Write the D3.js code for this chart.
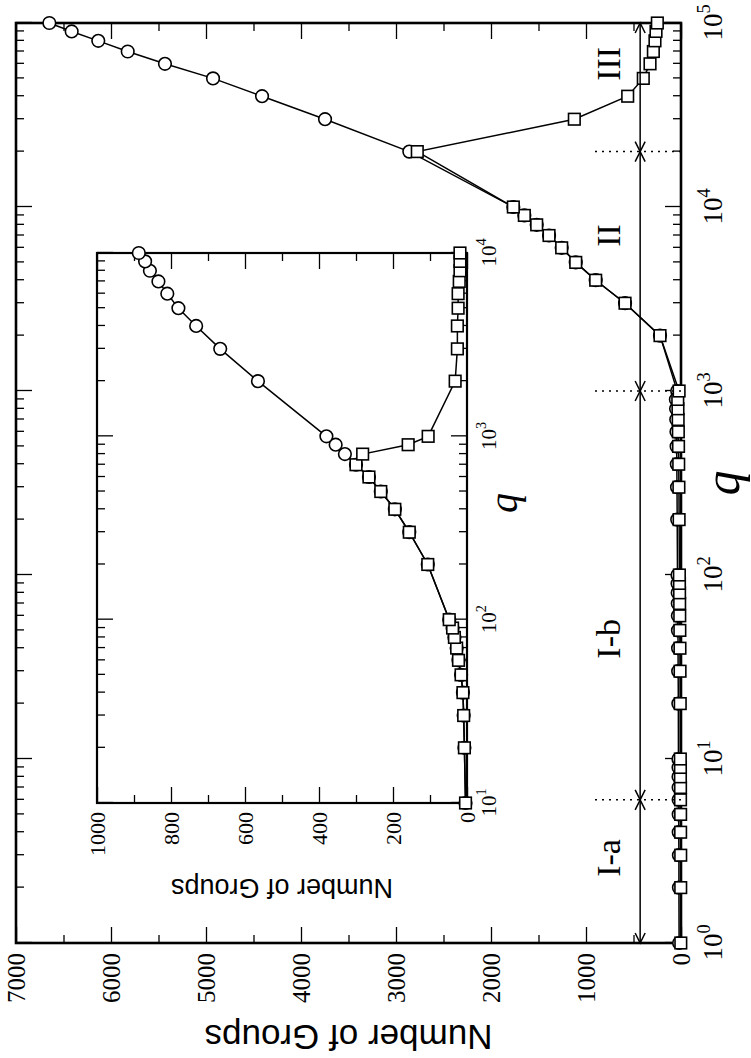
<!DOCTYPE html>
<html>
<head>
<meta charset="utf-8">
<script src="https://cdn.jsdelivr.net/npm/d3@7"></script>
<style>
body { margin: 0; background: #fff; }
text { fill: #000; }
</style>
</head>
<body>
<div id="chart"></div>
<script>
// main plot data (q, number of groups)
var qMain = [1,2,3,4,5,6,7,8,9,10,
  20,30,40,50,60,70,80,90,100,
  200,300,400,500,600,700,800,900,1000,
  2000,3000,4000,5000,6000,7000,8000,9000,10000,
  20000,30000,40000,50000,60000,70000,80000,90000,100000];
var circMain = [20,22,22,24,24,25,25,26,26,27,
  28,30,31,32,33,34,35,36,37,
  40,42,44,46,48,50,52,54,40,
  221,589,898,1108,1256,1389,1519,1649,1765,
  2860,3747,4410,4926,5432,5824,6134,6414,6649];
var sqMain = [2,3,3,4,4,5,5,6,6,7,
  8,10,11,12,13,14,15,16,17,
  20,22,24,26,28,30,32,34,20,
  221,589,898,1108,1256,1389,1519,1649,1765,
  2776,1123,561,397,326,291,274,263,249];

// inset data
var qInset = [10,20,30,40,50,60,70,80,90,100,
  200,300,400,500,600,700,800,900,1000,
  2000,3000,4000,5000,6000,7000,8000,9000,10000];
var circInset = [4,7,9,11,16,23,28,34,39,48,
  106,156,195,233,265,300,330,355,380,
  565,667,732,780,810,834,857,870,887];
var sqInset = [4,7,9,11,16,23,28,34,39,48,
  106,156,195,233,265,300,282,159,105,
  32,26,26,24,24,21,19,19,19];

var nTicksMain = [0,1000,2000,3000,4000,5000,6000,7000];
var nMinorMain = [500,1500,2500,3500,4500,5500,6500];
var nTicksInset = [0,200,400,600,800,1000];
var nMinorInset = [100,300,500,700,900];
var qTicksMain = [1,10,100,1000,10000,100000];
var qTicksInset = [10,100,1000,10000];

// regime boundaries and labels
var boundaries = [6,1000,20000];
var regionNames = ["I-a","I-b","II","III"];
var regionCenters = [2.9,45,7000,60000];
var arrowLevel = 430, dottedTop = 930, labelLevel = 640;

var svg = d3.select("#chart").append("svg")
  .attr("width", 751).attr("height", 1058);

function minorsLog(lo, hi) {
  var out = [];
  for (var d = lo; d < hi; d *= 10)
    for (var m = 2; m < 10; m++) out.push(d * m);
  return out;
}

function supText(sel, fs) {
  sel.each(function(d) {
    var t = d3.select(this);
    t.text(null);
    t.append("tspan").text("10");
    t.append("tspan").attr("dy", -0.45 * fs).attr("font-size", fs * 0.68)
      .text(Math.round(Math.log10(d)));
  });
}

// draws one framed panel in un-rotated coordinates, then the group is rotated
function panel(g, o) {
  var x = d3.scaleLog().domain(o.qDom).range([0, o.W]);
  var y = d3.scaleLinear().domain(o.nDom).range([o.H, 0]);

  g.append("rect").attr("width", o.W).attr("height", o.H)
    .attr("fill", "#fff");

  // q axis bottom
  var gb = g.append("g").attr("transform", "translate(0," + o.H + ")")
    .call(d3.axisBottom(x).tickValues(o.qTicks).tickSizeInner(-o.maj).tickSizeOuter(0)
      .tickPadding(o.qPad).tickFormat(function() { return ""; }));
  gb.selectAll(".tick text").style("font-family", "Liberation Serif")
    .style("font-size", o.qFs + "px").call(supText, o.qFs);
  g.append("g").attr("transform", "translate(0," + o.H + ")")
    .call(d3.axisBottom(x).tickValues(minorsLog(o.qDom[0], o.qDom[1])).tickSizeInner(-o.mnr).tickSizeOuter(0).tickFormat(""));
  g.append("g")
    .call(d3.axisTop(x).tickValues(o.qTicks).tickSizeInner(-o.maj).tickSizeOuter(0).tickFormat(""));
  g.append("g")
    .call(d3.axisTop(x).tickValues(minorsLog(o.qDom[0], o.qDom[1])).tickSizeInner(-o.mnr).tickSizeOuter(0).tickFormat(""));

  // N axis left / right
  var gl = g.append("g")
    .call(d3.axisLeft(y).tickValues(o.nTicks).tickSizeInner(-o.maj).tickSizeOuter(0)
      .tickPadding(o.nPad).tickFormat(d3.format("d")));
  gl.selectAll(".tick text").style("font-family", "Liberation Serif")
    .style("font-size", o.nFs + "px");
  g.append("g")
    .call(d3.axisLeft(y).tickValues(o.nMinor).tickSizeInner(-o.mnr).tickSizeOuter(0).tickFormat(""));
  g.append("g").attr("transform", "translate(" + o.W + ",0)")
    .call(d3.axisRight(y).tickValues(o.nTicks).tickSizeInner(-o.maj).tickSizeOuter(0).tickFormat(""));
  g.append("g").attr("transform", "translate(" + o.W + ",0)")
    .call(d3.axisRight(y).tickValues(o.nMinor).tickSizeInner(-o.mnr).tickSizeOuter(0).tickFormat(""));

  g.selectAll(".domain").remove();
  g.selectAll(".tick line").attr("stroke", "#000").attr("stroke-width", 1.3);

  g.append("rect").attr("width", o.W).attr("height", o.H)
    .attr("fill", "none").attr("stroke", "#000").attr("stroke-width", o.frame);

  // axis titles
  g.append("text").attr("transform", "translate(" + (o.W / 2 + o.qLabShift) + "," + (o.H + o.qLab) + ")")
    .attr("text-anchor", "middle").style("font-family", "Liberation Serif")
    .style("font-style", "italic").style("font-size", o.qLabFs + "px").text("q");
  g.append("text").attr("transform", "translate(" + (-o.nLab) + "," + (o.H / 2) + ") rotate(-90)")
    .attr("text-anchor", "middle").style("font-family", "Liberation Sans")
    .style("font-size", o.nLabFs + "px").text("Number of Groups");

  // series
  var line = d3.line().x(function(d) { return x(d[0]); }).y(function(d) { return y(d[1]); });
  var circ = o.q.map(function(q, i) { return [q, o.circ[i]]; });
  var sq = o.q.map(function(q, i) { return [q, o.sq[i]]; });
  g.append("path").datum(circ).attr("d", line).attr("fill", "none")
    .attr("stroke", "#000").attr("stroke-width", 1.5);
  g.append("path").datum(sq).attr("d", line).attr("fill", "none")
    .attr("stroke", "#000").attr("stroke-width", 1.5);
  g.selectAll(".circ").data(circ).enter().append("circle")
    .attr("cx", function(d) { return x(d[0]); }).attr("cy", function(d) { return y(d[1]); })
    .attr("r", 6.3).attr("fill", "#fff").attr("stroke", "#000").attr("stroke-width", 1.6);
  g.selectAll(".sq").data(sq).enter().append("rect")
    .attr("x", function(d) { return x(d[0]) - 5.8; }).attr("y", function(d) { return y(d[1]) - 5.8; })
    .attr("width", 11.6).attr("height", 11.6)
    .attr("fill", "#fff").attr("stroke", "#000").attr("stroke-width", 1.6);

  return { x: x, y: y };
}

var mainG = svg.append("g").attr("transform", "translate(16,943) rotate(-90)");
var m = panel(mainG, {
  W: 920, H: 665, qDom: [1, 1e5], nDom: [0, 7000],
  qTicks: qTicksMain, nTicks: nTicksMain, nMinor: nMinorMain,
  maj: 16, mnr: 8, frame: 2.6, qPad: 22, qFs: 27, nPad: 10, nFs: 25,
  qLab: 58, qLabShift: 0, qLabFs: 50, nLab: 82, nLabFs: 35,
  q: qMain, circ: circMain, sq: sqMain
});

// regime arrows, dotted separators and labels (main panel)
var edges = [1].concat(boundaries).concat([1e5]);
var ay = m.y(arrowLevel);
for (var i = 0; i < edges.length - 1; i++) {
  var a = m.x(edges[i]), b = m.x(edges[i + 1]);
  mainG.append("line").attr("x1", a).attr("x2", b).attr("y1", ay).attr("y2", ay)
    .attr("stroke", "#000").attr("stroke-width", 1.5);
  [[a, 1], [b, -1]].forEach(function(p) {
    mainG.append("path")
      .attr("d", "M" + (p[0] + p[1] * 10) + "," + (ay - 5) + "L" + p[0] + "," + ay + "L" + (p[0] + p[1] * 10) + "," + (ay + 5))
      .attr("fill", "none").attr("stroke", "#000").attr("stroke-width", 1.5);
  });
}
boundaries.forEach(function(bq) {
  mainG.append("line").attr("x1", m.x(bq)).attr("x2", m.x(bq))
    .attr("y1", m.y(0)).attr("y2", m.y(dottedTop))
    .attr("stroke", "#000").attr("stroke-width", 1.5).attr("stroke-dasharray", "2,5");
});
regionNames.forEach(function(name, i) {
  mainG.append("text").attr("x", m.x(regionCenters[i])).attr("y", m.y(labelLevel))
    .attr("text-anchor", "middle").style("font-family", "Liberation Serif")
    .style("font-size", "34px").text(name);
});

var insetG = svg.append("g").attr("transform", "translate(97,803) rotate(-90)");
panel(insetG, {
  W: 550, H: 370, qDom: [10, 1e4], nDom: [0, 1000],
  qTicks: qTicksInset, nTicks: nTicksInset, nMinor: nMinorInset,
  maj: 16, mnr: 8, frame: 2.2, qPad: 14, qFs: 21, nPad: 9, nFs: 22,
  qLab: 50, qLabShift: 25, qLabFs: 40, nLab: 76, nLabFs: 27,
  q: qInset, circ: circInset, sq: sqInset
});
</script>
</body>
</html>
